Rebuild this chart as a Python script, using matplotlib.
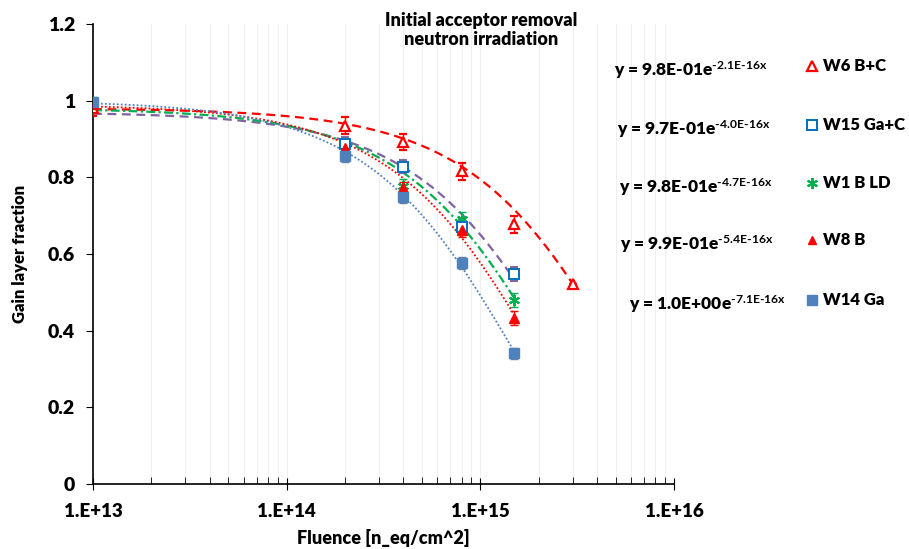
import numpy as np
import matplotlib
matplotlib.use("Agg")
import matplotlib.pyplot as plt

plt.rcParams['font.family'] = ['Lato', 'DejaVu Sans']
plt.rcParams['font.weight'] = 'bold'
plt.rcParams['mathtext.fontset'] = 'custom'
plt.rcParams['mathtext.rm'] = 'Lato:bold'
plt.rcParams['mathtext.it'] = 'Lato:bold'
plt.rcParams['mathtext.bf'] = 'Lato:bold'

# measured points (fluence in n_eq/cm^2)
fluence = [1e13, 2e14, 4e14, 8e14, 1.5e15]
fluence_w6 = [1e13, 2e14, 4e14, 8e14, 1.5e15, 3e15]

w6 = [0.98, 0.935, 0.892, 0.816, 0.677, 0.521]
w15 = [0.99, 0.887, 0.828, 0.671, 0.547]
w1 = [0.99, 0.884, 0.778, 0.692, 0.480]
w8 = [0.99, 0.876, 0.771, 0.662, 0.432]
w14 = [0.997, 0.856, 0.749, 0.577, 0.341]

err_w6 = [0.02, 0.022, 0.022, 0.022, 0.022, 0.0]
err_w15 = [0.015, 0.018, 0.018, 0.018, 0.018]
err_w1 = [0.015, 0.018, 0.018, 0.018, 0.018]
err_w8 = [0.015, 0.018, 0.018, 0.018, 0.018]
err_w14 = [0.012, 0.015, 0.015, 0.015, 0.015]

# exponential trendlines shown on the chart: y = a*exp(b*x)
fit_a = [0.98, 0.97, 0.98, 0.99, 1.0]
fit_b = [-2.1e-16, -4.0e-16, -4.7e-16, -5.4e-16, -7.1e-16]
fit_end = [3e15, 1.5e15, 1.5e15, 1.5e15, 1.5e15]
eq_exp = ['-2.1E-16x', '-4.0E-16x', '-4.7E-16x', '-5.4E-16x', '-7.1E-16x']
eq_pre = ['9.8E-01', '9.7E-01', '9.8E-01', '9.9E-01', '1.0E+00']
names = ['W6 B+C', 'W15 Ga+C', 'W1 B LD', 'W8 B', 'W14 Ga']

fig = plt.figure(figsize=(9.09, 5.49), dpi=100)
ax = fig.add_axes([0.1023, 0.1184, 0.6392, 0.8379])

red = '#FF0000'
blue_open = '#0070C0'
green = '#00B050'
blue = '#4F81BD'
purple = '#8064A2'
W = 'heavy'

fit_styles = [
    dict(color=red, ls=(0, (4, 2.5)), lw=1.6),
    dict(color=purple, ls=(0, (4, 2.5)), lw=1.6),
    dict(color=green, ls=(0, (4, 1.5, 1, 1.5)), lw=1.6),
    dict(color=red, ls=(0, (1, 1.2)), lw=1.3),
    dict(color=blue, ls=(0, (1, 1.2)), lw=1.3),
]
for a, b, end, st in zip(fit_a, fit_b, fit_end, fit_styles):
    xs = np.logspace(13, np.log10(end), 200)
    ax.plot(xs, a * np.exp(b * xs), zorder=2, **st)

ax.errorbar(fluence_w6, w6, yerr=err_w6, fmt='^', ms=7, mfc='white', mec=red,
            mew=1.6, ecolor=red, elinewidth=1, capsize=3, zorder=4)
ax.errorbar(fluence, w15, yerr=err_w15, fmt='s', ms=6.5, mfc='white', mec=blue_open,
            mew=1.4, ecolor=purple, elinewidth=1, capsize=3, zorder=4)
ax.errorbar(fluence, w1, yerr=err_w1, fmt='none', ecolor=green, elinewidth=1,
            capsize=3, zorder=4)
ax.plot(fluence, w1, ls='none', marker=(6, 2, 0), ms=8, mec=green, mew=1.5, zorder=4)
ax.errorbar(fluence, w8, yerr=err_w8, fmt='^', ms=6.5, color=red, ecolor=red,
            elinewidth=1, capsize=3, zorder=4)
ax.errorbar(fluence, w14, yerr=err_w14, fmt='s', ms=6.5, color=blue, ecolor='#6b7f99',
            elinewidth=1, capsize=3, zorder=4)

ax.set_xscale('log')
ax.set_xlim(1e13, 1e16)
ax.set_ylim(0, 1.2)
ax.set_xticks([1e13, 1e14, 1e15, 1e16])
ax.set_xticklabels(['1.E+13', '1.E+14', '1.E+15', '1.E+16'], fontweight=W)
ax.set_yticks([0, 0.2, 0.4, 0.6, 0.8, 1.0, 1.2])
ax.set_yticklabels(['0', '0.2', '0.4', '0.6', '0.8', '1', '1.2'], fontweight=W)
ax.grid(True, which='both', axis='x', color='#EFEFEF', lw=0.8)
ax.set_axisbelow(True)
for s in ['top', 'right']:
    ax.spines[s].set_visible(False)
for s in ['left', 'bottom']:
    ax.spines[s].set_linewidth(1.2)
ax.tick_params(axis='x', which='major', direction='inout', length=8, labelsize=13.5, pad=10)
ax.tick_params(axis='x', which='minor', direction='in', length=5)
ax.tick_params(axis='y', direction='out', length=5, labelsize=14, pad=8)
ax.set_xlabel('Fluence [n_eq/cm^2]', fontsize=13, fontweight=W, labelpad=6)
ax.set_ylabel('Gain layer fraction', fontsize=12, fontweight=W, labelpad=14)

fig.text(481 / 909, 1 - 30 / 549, 'Initial acceptor removal\nneutron irradiation',
         ha='center', va='center', fontsize=13, fontweight=W, linespacing=1.2)

rows = [68, 127, 185, 242, 302]
eq_right = [767, 770, 772, 773, 786]
markers = [dict(marker='^', mfc='white', mec=red, mew=1.6, ms=7),
           dict(marker='s', mfc='white', mec=blue_open, mew=1.4, ms=7),
           dict(marker=(6, 2, 0), mec=green, mew=1.5, ms=8),
           dict(marker='^', color=red, ms=6),
           dict(marker='s', color=blue, ms=7)]
for r, er, pre, ex, nm, mk in zip(rows, eq_right, eq_pre, eq_exp, names, markers):
    yf = 1 - (r + 2) / 549
    fig.text(er / 909, yf, 'y = ' + pre + 'e$^{' + ex.replace('-', '\u2010') + '}$',
             ha='right', va='center', fontsize=12.5, fontweight=W)
    fig.lines.append(plt.Line2D([812 / 909], [1 - (r - 2) / 549], transform=fig.transFigure,
                                ls='none', **mk))
    fig.text(823 / 909, 1 - (r - 2) / 549, nm, ha='left', va='center',
             fontsize=12, fontweight=W)

fig.savefig('out.png', dpi=100)
